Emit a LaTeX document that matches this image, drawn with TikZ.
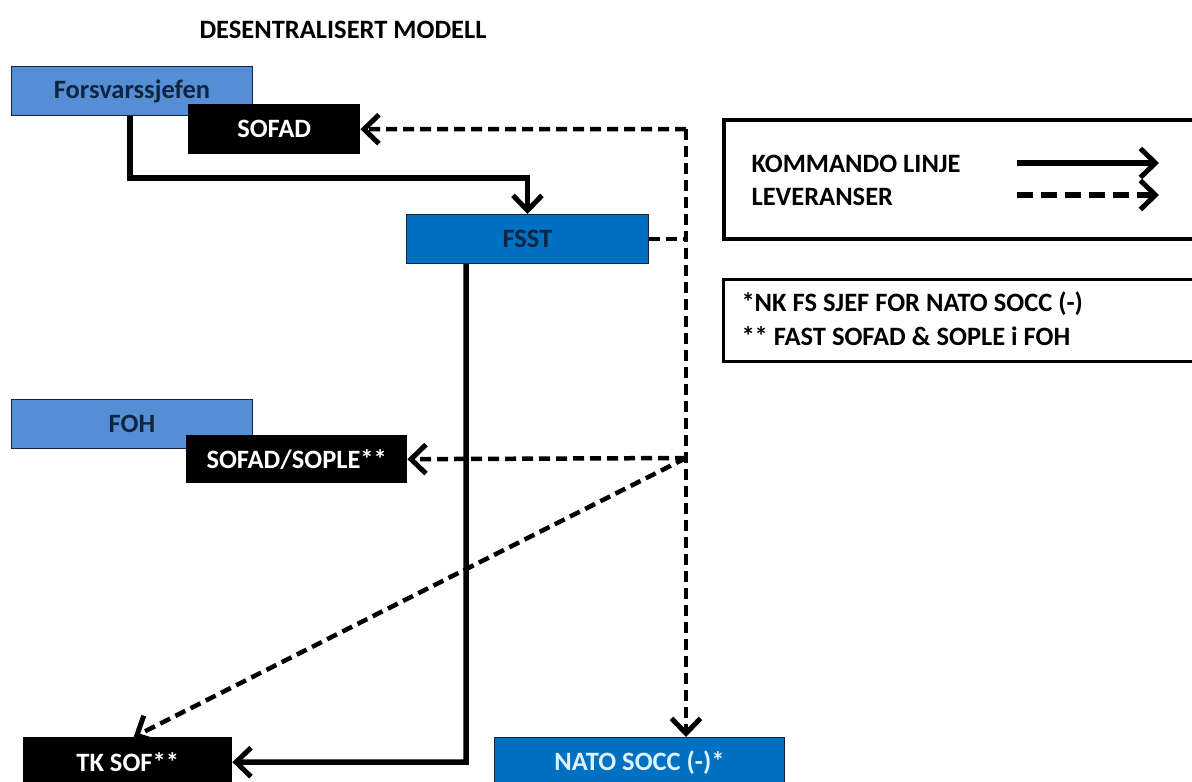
\documentclass[tikz,border=0pt]{standalone}
\usepackage{fontspec}
\setmainfont{Carlito}
\usetikzlibrary{arrows.meta}
\definecolor{lblue}{HTML}{558ED5}
\definecolor{dblue}{HTML}{0070C0}
\definecolor{navy}{HTML}{10253F}
\definecolor{ltxt}{HTML}{DDF2FF}
\tikzset{
  txt/.style={font=\fontsize{26.5}{30}\selectfont\bfseries},
  box/.style={txt, anchor=north west, inner sep=0pt, minimum height=49pt},
  lightbox/.style={box, fill=lblue, draw=navy, line width=1pt, text=navy},
  bluebox/.style={box, fill=dblue, draw=navy, line width=1pt},
  blackbox/.style={box, fill=black, text=white},
  tipx/.style={-{Straight Barb[length=15pt,width=29pt,line width=5pt]}},
  cmd/.style={line width=5.5pt},
  dlv/.style={line width=4.5pt, dash pattern=on 11pt off 6pt},
  legbox/.style={draw=black},
}
\begin{document}
\begin{tikzpicture}[x=1pt,y=-1pt]
\useasboundingbox (0,0) rectangle (1192,782);
\clip (0,0) rectangle (1192,782);
\fill[white] (0,0) rectangle (1192,782);

\node[txt, anchor=west] (title) at (196,30) {DESENTRALISERT MODELL};

\node[lightbox, minimum width=241pt] (forsv) at (11,66) {Forsvarssjefen};
\node[blackbox, minimum width=172pt, minimum height=50pt] (sofad) at (188,104) {SOFAD};
\node[bluebox, minimum width=242pt, text=navy] (fsst) at (406,214) {FSST};
\node[lightbox, minimum width=241pt] (foh) at (11,399) {FOH};
\node[blackbox, minimum width=221pt, minimum height=48pt] (sople) at (186,435) {SOFAD/SOPLE**};
\node[blackbox, minimum width=209pt, minimum height=50pt] (tksof) at (23,737) {TK SOF**};
\node[bluebox, minimum width=290pt, minimum height=50pt, text=ltxt] (nato) at (494,737) {NATO SOCC (-)*};

% legend boxes
\node[legbox, line width=4pt, anchor=north west, minimum width=480pt, minimum height=119pt, inner sep=0pt] (leg1) at (722,118) {};
\node[legbox, line width=2.5pt, anchor=north west, minimum width=480pt, minimum height=82pt, inner sep=0pt] (leg2) at (722,278) {};
\node[txt, anchor=west] (l1t) at (748,164) {KOMMANDO LINJE};
\node[txt, anchor=west] (l2t) at (748,197) {LEVERANSER};
\node[txt, anchor=west] (n1t) at (738,304) {*NK FS SJEF FOR NATO SOCC (-)};
\node[txt, anchor=west] (n2t) at (738,336) {** FAST SOFAD \& SOPLE i FOH};

\coordinate (l1s) at (1017,163);
\coordinate (l1e) at (1159,163);
\coordinate (l2s) at (1017,195);
\coordinate (l2e) at (1159,195);
\draw[cmd, line width=6.5pt, tipx] (l1s) -- (l1e);
\draw[dlv, line width=6pt, dash pattern=on 16pt off 8pt, tipx] (l2s) -- (l2e);

% command lines
\coordinate (c1) at (130,178);
\draw[cmd, tipx] (forsv.south -| c1) -- (c1) -| (fsst.north);
\coordinate (c2) at (466,762);
\draw[cmd, tipx] (fsst.south -| c2) -- (c2) -- (tksof.east);

% deliveries
\coordinate (jt) at (686,129);
\coordinate (jm) at (686,458);
\draw[dlv] (fsst.east) -- (fsst.east -| jt);
\draw[dlv, tipx] (jt) -- (sofad.east);
\draw[dlv, tipx] (jt) -- (jt |- nato.north);
\draw[dlv, tipx] (jm) -- (sople.east);
\draw[dlv, tipx] (jm) -- ([xshift=6pt]tksof.north);
\end{tikzpicture}
\end{document}
